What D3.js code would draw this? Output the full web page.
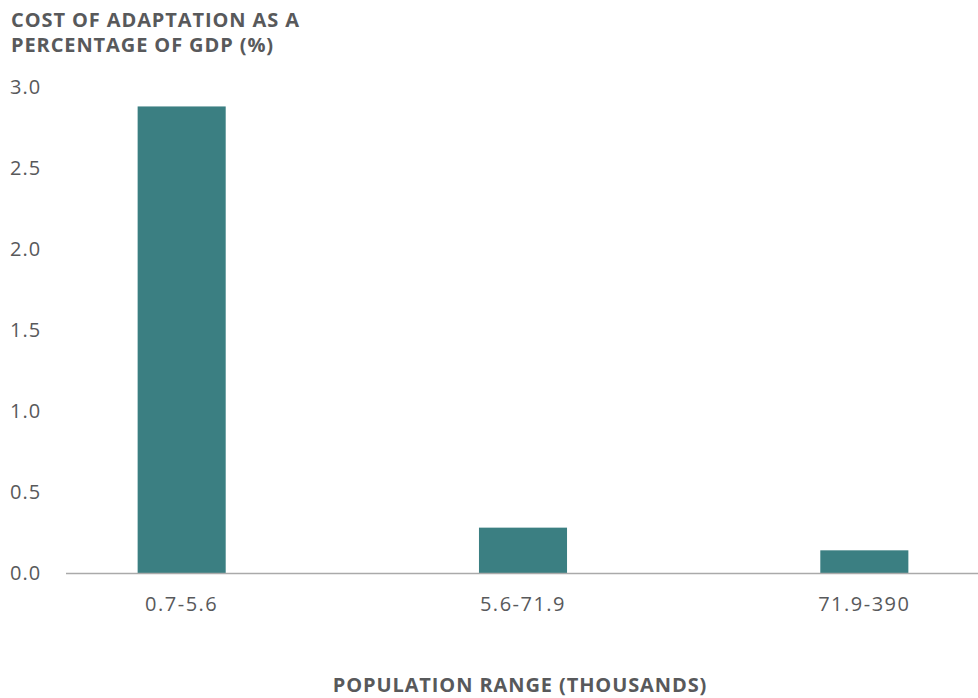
<!DOCTYPE html>
<html>
<head>
<meta charset="utf-8">
<script src="https://cdn.jsdelivr.net/npm/d3@7"></script>
<style>
  html, body { margin: 0; padding: 0; background: #fff; }
  svg { display: block; font-family: "Open Sans", "Noto Sans", sans-serif; }
</style>
</head>
<body>
<svg id="chart" width="978" height="698"></svg>
<script>
// Adaptation cost by population range
const categories = ["0.7-5.6", "5.6-71.9", "71.9-390"];
const costPct = [2.88, 0.28, 0.14];
const yTicks = [0, 0.5, 1.0, 1.5, 2.0, 2.5, 3.0];
const titleLines = ["COST OF ADAPTATION AS A", "PERCENTAGE OF GDP (%)"];
const xTitle = "POPULATION RANGE (THOUSANDS)";

const W = 978, H = 698;
const svg = d3.select("#chart");
const textColor = "#58595b";
const barColor = "#3b7f82";

const y = d3.scaleLinear().domain([0, 3]).range([573, 87]);
const x = d3.scaleBand().domain(categories).range([11, 1035]).paddingInner(0.742).paddingOuter(0.371);

// Title
svg.append("g").selectAll("text").data(titleLines).join("text")
  .attr("x", 11).attr("y", (d, i) => 27 + i * 25)
  .attr("fill", textColor).attr("font-size", 20).attr("font-weight", 700)
  .attr("letter-spacing", 0.9)
  .text(d => d);

// Y tick labels
const yAxis = svg.append("g").attr("transform", "translate(10,0)")
  .call(d3.axisRight(y).tickValues(yTicks).tickFormat(d3.format(".1f")).tickSize(0).tickPadding(0));
yAxis.select(".domain").remove();
yAxis.selectAll("text").attr("fill", textColor).attr("font-size", 20)
  .attr("letter-spacing", 1)
  .attr("font-family", "'Open Sans', sans-serif").attr("text-anchor", "start");

// Bars
svg.append("g").selectAll("rect").data(categories).join("rect")
  .attr("x", d => x(d)).attr("width", x.bandwidth())
  .attr("y", (d, i) => y(costPct[i]))
  .attr("height", (d, i) => y(0) - y(costPct[i]))
  .attr("fill", barColor);

// Baseline
svg.append("line").attr("x1", 66).attr("x2", 978)
  .attr("y1", y(0) + 0.5).attr("y2", y(0) + 0.5)
  .attr("stroke", "#aaaaaa").attr("stroke-width", 1.5);

// X category labels
const xAxis = svg.append("g").attr("transform", "translate(0,611)")
  .call(d3.axisBottom(x).tickSize(0).tickPadding(0));
xAxis.select(".domain").remove();
xAxis.selectAll("text").attr("fill", textColor).attr("font-size", 20)
  .attr("letter-spacing", 1.5)
  .attr("font-family", "'Open Sans', sans-serif").attr("dy", 0);

// X title
svg.append("text").attr("x", 520).attr("y", 692).attr("text-anchor", "middle")
  .attr("fill", textColor).attr("font-size", 20).attr("font-weight", 700)
  .attr("letter-spacing", 0.9)
  .text(xTitle);
</script>
</body>
</html>
